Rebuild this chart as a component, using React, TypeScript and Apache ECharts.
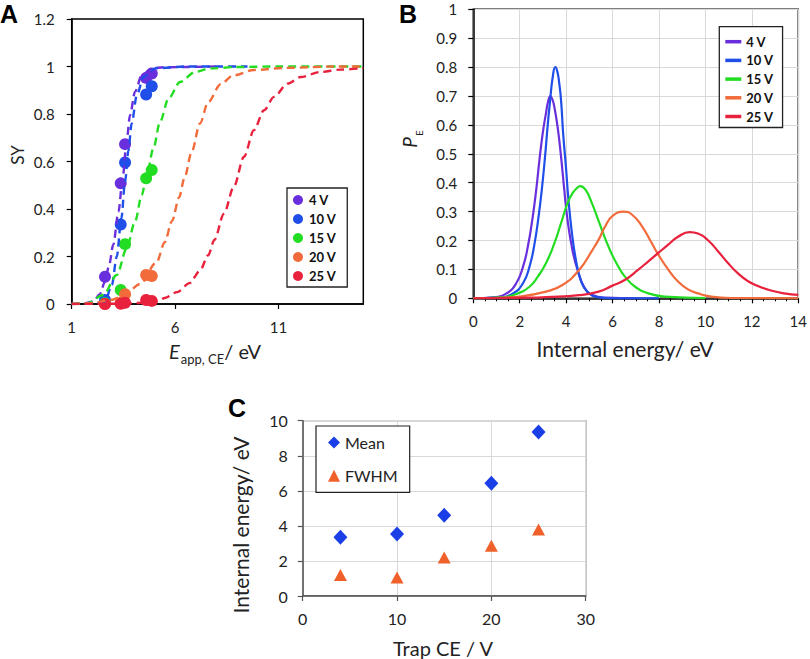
import React, { useEffect, useRef } from 'react';
import * as echarts from 'echarts';

// ---------- Data ----------
const voltages = ['4 V', '10 V', '15 V', '20 V', '25 V'];

// Panel A: measured survival yield (SY) vs E_app,CE
const syX = [2.61, 3.37, 3.58, 4.6, 4.87];
const sy4V = [0.115, 0.508, 0.673, 0.952, 0.97];
const sy10V = [0.017, 0.335, 0.596, 0.882, 0.917];
const sy15V = [0.003, 0.059, 0.252, 0.529, 0.564];
const sy20V = [0.0, 0.005, 0.041, 0.122, 0.118];
const sy25V = [0.0, 0.001, 0.005, 0.017, 0.013];
const aXTicks = [1, 6, 11];

// Panel A: fitted curves (dashed)
const fit4V = [[1, 0], [1.5, 0.002], [2.05, 0.01], [2.35, 0.04], [2.61, 0.094], [2.8, 0.16], [3.01, 0.25], [3.26, 0.388], [3.47, 0.535], [3.66, 0.69], [3.82, 0.795], [4.06, 0.893], [4.39, 0.963], [4.87, 0.992], [5.43, 0.997], [8, 1]];
const fit10V = [[1, 0], [2, 0.001], [2.61, 0.01], [2.94, 0.08], [3.18, 0.2], [3.4, 0.36], [3.58, 0.515], [3.74, 0.645], [3.9, 0.76], [4.15, 0.879], [4.47, 0.956], [5.03, 0.992], [6.5, 1], [9.5, 1]];
const fit15V = [[1, 0], [1.73, 0.003], [2.53, 0.038], [3.18, 0.122], [3.66, 0.234], [4.06, 0.346], [4.39, 0.459], [4.63, 0.543], [4.95, 0.655], [5.27, 0.767], [5.68, 0.865], [6.24, 0.935], [6.97, 0.977], [7.69, 0.992], [9, 0.998], [11, 1], [15.1, 1]];
const fit20V = [[1, 0], [2, 0.003], [2.9, 0.017], [3.5, 0.035], [4.3, 0.083], [5.1, 0.175], [5.5, 0.26], [5.85, 0.35], [6.2, 0.45], [6.45, 0.53], [6.8, 0.64], [7.2, 0.76], [7.6, 0.85], [8.2, 0.925], [8.8, 0.962], [9.8, 0.985], [11.3, 0.994], [13.7, 1], [15.1, 1]];
const fit25V = [[1, 0], [3, 0.001], [4.5, 0.005], [5.13, 0.012], [5.5, 0.025], [6.1, 0.05], [6.7, 0.088], [7.2, 0.14], [7.6, 0.205], [7.9, 0.27], [8.36, 0.38], [8.84, 0.494], [9.33, 0.62], [9.81, 0.732], [10.3, 0.816], [10.78, 0.872], [11.44, 0.928], [12.08, 0.956], [13.05, 0.977], [14, 0.987], [15.1, 0.993]];

// Panel B: internal energy distributions P_E
const pe4V = [[0, 0], [0.85, 0.003], [1.43, 0.017], [1.85, 0.052], [2.14, 0.109], [2.35, 0.179], [2.56, 0.282], [2.71, 0.375], [2.85, 0.479], [2.99, 0.571], [3.13, 0.64], [3.22, 0.68], [3.32, 0.7], [3.4, 0.69], [3.49, 0.663], [3.63, 0.594], [3.78, 0.49], [3.92, 0.375], [4.06, 0.271], [4.27, 0.167], [4.49, 0.098], [4.77, 0.04], [5.13, 0.011], [5.7, 0.002], [7, 0]];
const pe10V = [[0, 0], [1.14, 0.003], [1.71, 0.017], [2.14, 0.052], [2.42, 0.109], [2.64, 0.19], [2.81, 0.282], [2.95, 0.375], [3.09, 0.49], [3.2, 0.594], [3.31, 0.686], [3.42, 0.765], [3.53, 0.8], [3.62, 0.785], [3.7, 0.745], [3.78, 0.686], [3.87, 0.571], [3.99, 0.455], [4.1, 0.34], [4.25, 0.225], [4.42, 0.133], [4.63, 0.063], [4.91, 0.023], [5.41, 0.003], [6, 0], [8, 0]];
const pe15V = [[0, 0], [1.14, 0.003], [1.85, 0.015], [2.42, 0.04], [2.78, 0.075], [3.13, 0.121], [3.49, 0.19], [3.78, 0.26], [4.06, 0.329], [4.27, 0.363], [4.45, 0.38], [4.6, 0.388], [4.84, 0.375], [5.13, 0.325], [5.41, 0.265], [5.69, 0.205], [5.97, 0.152], [6.26, 0.108], [6.54, 0.074], [6.97, 0.04], [7.54, 0.017], [8.25, 0.006], [10, 0.001]];
const pe20V = [[0, 0], [0.85, 0.001], [2, 0.006], [3.13, 0.023], [3.84, 0.046], [4.56, 0.098], [5.13, 0.167], [5.4, 0.203], [5.69, 0.25], [6, 0.285], [6.47, 0.3], [6.83, 0.29], [7.26, 0.25], [7.68, 0.192], [7.97, 0.151], [8.4, 0.099], [8.82, 0.058], [9.25, 0.031], [9.68, 0.017], [10.25, 0.006], [11.1, 0.001], [14, 0]];
const pe25V = [[0, 0], [2.56, 0.002], [3.13, 0.004], [4.56, 0.011], [5.4, 0.023], [5.97, 0.043], [6.54, 0.064], [7.11, 0.099], [7.54, 0.128], [7.97, 0.157], [8.4, 0.186], [8.82, 0.213], [9.32, 0.229], [9.68, 0.224], [10.11, 0.201], [10.54, 0.163], [10.97, 0.122], [11.39, 0.087], [11.82, 0.06], [12.25, 0.043], [12.82, 0.027], [13.39, 0.017], [14, 0.012]];

// Panel C: mean internal energy and FWHM vs trap CE
const trapCE = [4, 10, 15, 20, 25];
const meanE = [3.35, 3.54, 4.6, 6.43, 9.35];
const fwhmE = [1.2, 1.06, 2.2, 2.87, 3.8];

// ---------- Styles ----------
const COLORS = ['#6a2fdc', '#1f4ee8', '#22dd22', '#f26b3a', '#e8213d'];
const MEAN_COLOR = '#1a3fe6';
const FWHM_COLOR = '#f0602a';
const FONT = 'Lato, "Open Sans", sans-serif';
const TXT = '#222';
const LETTER_FONT = 'bold 25px "Liberation Sans", Arial, sans-serif';

const syData = [sy4V, sy10V, sy15V, sy20V, sy25V];
const fitData = [fit4V, fit10V, fit15V, fit20V, fit25V];
const peData = [pe4V, pe10V, pe15V, pe20V, pe25V];

function axisCommon(gridIndex: number, color: string, labelSize: number) {
  return {
    gridIndex,
    type: 'value' as const,
    axisLine: { show: true, onZero: false, lineStyle: { color, width: 1.5 } },
    axisTick: { show: true, length: 5, lineStyle: { color, width: 1.2 } },
    axisLabel: { fontFamily: FONT, fontSize: labelSize, color: TXT, margin: 14 },
    splitLine: { show: false },
  };
}

function buildOption(): any {
  const series: any[] = [];
  fitData.forEach((d, i) => {
    series.push({
      name: 'A:' + voltages[i] + ' fit',
      type: 'line',
      xAxisIndex: 0,
      yAxisIndex: 0,
      data: d,
      symbol: 'none',
      smooth: 0.3,
      smoothMonotone: 'x',
      lineStyle: { color: COLORS[i], width: 2.4, type: [8, 5] },
      silent: true,
    });
  });
  syData.forEach((d, i) => {
    series.push({
      name: 'A:' + voltages[i],
      type: 'scatter',
      xAxisIndex: 0,
      yAxisIndex: 0,
      data: syX.map((x, j) => [x, d[j]]),
      symbol: 'circle',
      symbolSize: 12,
      color: COLORS[i],
      itemStyle: { color: COLORS[i], opacity: 1 },
    });
  });
  peData.forEach((d, i) => {
    series.push({
      name: 'B:' + voltages[i],
      type: 'line',
      xAxisIndex: 1,
      yAxisIndex: 1,
      data: d,
      symbol: 'none',
      smooth: 0.5,
      color: COLORS[i],
      itemStyle: { color: COLORS[i] },
      lineStyle: { color: COLORS[i], width: 2.2 },
    });
  });
  series.push({
    name: 'Mean',
    type: 'scatter',
    xAxisIndex: 2,
    yAxisIndex: 2,
    data: trapCE.map((x, j) => [x, meanE[j]]),
    symbol: 'diamond',
    symbolSize: [14, 15],
    color: MEAN_COLOR,
    itemStyle: { color: MEAN_COLOR, opacity: 1 },
  });
  series.push({
    name: 'FWHM',
    type: 'scatter',
    xAxisIndex: 2,
    yAxisIndex: 2,
    data: trapCE.map((x, j) => [x, fwhmE[j]]),
    symbol: 'triangle',
    symbolSize: [13, 12],
    color: FWHM_COLOR,
    itemStyle: { color: FWHM_COLOR, opacity: 1 },
  });

  const xA = axisCommon(0, '#000', 15);
  const xB = axisCommon(1, '#000', 15);
  const xC = axisCommon(2, '#555', 16);
  const yA = axisCommon(0, '#000', 15);
  const yB = axisCommon(1, '#000', 15);
  const yC = axisCommon(2, '#555', 16);

  return {
    animation: false,
    backgroundColor: '#fff',
    textStyle: { fontFamily: FONT },
    grid: [
      { left: 71.7, top: 19, width: 291.6, height: 285, show: true, borderColor: '#000', borderWidth: 1.5, backgroundColor: 'transparent' },
      { left: 473.3, top: 9.3, width: 327.7, height: 289, show: true, borderColor: '#000', borderWidth: 1.5, backgroundColor: 'transparent' },
      { left: 302.7, top: 420.7, width: 283, height: 175.3, show: true, borderColor: '#595959', borderWidth: 1.3, backgroundColor: 'transparent' },
    ],
    xAxis: [
      {
        ...xA,
        min: 1,
        max: 15.1,
        axisTick: { ...xA.axisTick, customValues: aXTicks },
        axisLabel: { ...xA.axisLabel, customValues: aXTicks, margin: 15 },
      },
      {
        ...xB,
        min: 0,
        max: 14,
        interval: 2,
        minorTick: { show: true, splitNumber: 4, length: 3, lineStyle: { color: '#000', width: 1 } },
        axisLabel: { ...xB.axisLabel, margin: 15 },
        splitLine: { show: true, lineStyle: { color: '#d9d9d9', width: 1 } },
      },
      {
        ...xC,
        min: 0,
        max: 30,
        interval: 10,
        axisLabel: { ...xC.axisLabel, margin: 14 },
        splitLine: { show: true, lineStyle: { color: '#d9d9d9', width: 1 } },
      },
    ],
    yAxis: [
      { ...yA, min: 0, max: 1.2, interval: 0.2, axisLabel: { ...yA.axisLabel, margin: 17 } },
      { ...yB, min: 0, max: 1, interval: 0.1, axisLabel: { ...yB.axisLabel, margin: 16 }, splitLine: { show: true, lineStyle: { color: '#d9d9d9', width: 1 } } },
      { ...yC, min: 0, max: 10, interval: 2, axisLabel: { ...yC.axisLabel, margin: 15 }, splitLine: { show: true, lineStyle: { color: '#d9d9d9', width: 1 } } },
    ],
    legend: [
      {
        data: voltages.map((v) => 'A:' + v),
        formatter: (n: string) => n.slice(2),
        selectedMode: false,
        orient: 'vertical',
        left: 287,
        top: 188,
        padding: [5, 11, 4, 6],
        itemGap: 5,
        itemWidth: 12,
        itemHeight: 10,
        icon: 'circle',
        textStyle: { fontFamily: FONT, fontWeight: 'bold', fontSize: 13, color: '#111', lineHeight: 14 },
        borderColor: '#222',
        borderWidth: 1.3,
        borderRadius: 0,
        backgroundColor: '#fff',
      },
      {
        data: voltages.map((v) => 'B:' + v),
        formatter: (n: string) => n.slice(2),
        selectedMode: false,
        orient: 'vertical',
        left: 719.3,
        top: 26.7,
        padding: [8, 9, 4, 6],
        itemGap: 4.7,
        itemWidth: 16,
        itemHeight: 3.5,
        icon: 'rect',
        textStyle: { fontFamily: FONT, fontWeight: 'bold', fontSize: 13, color: '#111', lineHeight: 14 },
        borderColor: '#222',
        borderWidth: 1.3,
        borderRadius: 0,
        backgroundColor: '#fff',
      },
      {
        data: [
          { name: 'Mean', icon: 'diamond' },
          { name: 'FWHM', icon: 'triangle' },
        ],
        selectedMode: false,
        orient: 'vertical',
        left: 316,
        top: 426,
        padding: [7, 12, 7, 12],
        itemGap: 14.3,
        itemWidth: 12,
        itemHeight: 12,
        textStyle: { fontFamily: FONT, fontSize: 16, color: TXT, lineHeight: 19 },
        borderColor: '#222',
        borderWidth: 1.2,
        borderRadius: 0,
        backgroundColor: '#fff',
      },
    ],
    graphic: [
      { type: 'text', x: 9, y: 1, style: { text: 'A', font: LETTER_FONT, fill: '#000', align: 'center', verticalAlign: 'top' } },
      { type: 'text', x: 408, y: 1, style: { text: 'B', font: LETTER_FONT, fill: '#000', align: 'center', verticalAlign: 'top' } },
      { type: 'text', x: 237, y: 395, style: { text: 'C', font: LETTER_FONT, fill: '#000', align: 'center', verticalAlign: 'top' } },
      { type: 'text', x: 17, y: 155, rotation: Math.PI / 2, style: { text: 'SY', font: `17px ${FONT}`, fill: TXT, align: 'center', verticalAlign: 'middle' } },
      {
        type: 'text', x: 215, y: 353,
        style: {
          text: '{i|E}{s|app, CE}{n|/ eV}',
          align: 'center', verticalAlign: 'middle', fill: TXT,
          rich: {
            i: { fontFamily: FONT, fontStyle: 'italic', fontSize: 20, fill: TXT, verticalAlign: 'bottom', padding: [0, 0, 5, 0] },
            s: { fontFamily: FONT, fontSize: 13, fill: TXT, verticalAlign: 'bottom', padding: [0, 0, 0, 1] },
            n: { fontFamily: FONT, fontSize: 20, fill: TXT, verticalAlign: 'bottom', padding: [0, 0, 5, 0] },
          },
        },
      },
      { type: 'text', x: 625, y: 348, style: { text: 'Internal energy/ eV', font: `21px ${FONT}`, fill: TXT, align: 'center', verticalAlign: 'middle' } },
      {
        type: 'text', x: 412, y: 139, rotation: Math.PI / 2,
        style: {
          text: '{i|P}{s|E}',
          align: 'center', verticalAlign: 'middle', fill: TXT,
          rich: {
            i: { fontFamily: FONT, fontStyle: 'italic', fontSize: 19, fill: TXT, verticalAlign: 'bottom', padding: [0, 1, 5, 0] },
            s: { fontFamily: FONT, fontSize: 10, fill: TXT, verticalAlign: 'bottom' },
          },
        },
      },
      { type: 'text', x: 240, y: 525, rotation: Math.PI / 2, style: { text: 'Internal energy/ eV', font: `21px ${FONT}`, fill: TXT, align: 'center', verticalAlign: 'middle' } },
      { type: 'text', x: 443, y: 648, style: { text: 'Trap CE / V', font: `20px ${FONT}`, fill: TXT, align: 'center', verticalAlign: 'middle' } },
    ],
    series,
  };
}

export default function App() {
  const ref = useRef<HTMLDivElement>(null);
  useEffect(() => {
    if (!ref.current) return;
    const chart = echarts.init(ref.current, null, { renderer: 'svg' });
    chart.setOption(buildOption());
    return () => {
      chart.dispose();
    };
  }, []);
  return (
    <div
      ref={ref}
      style={{ position: 'absolute', left: 0, top: 0, width: 810, height: 659, background: '#fff' }}
    />
  );
}
